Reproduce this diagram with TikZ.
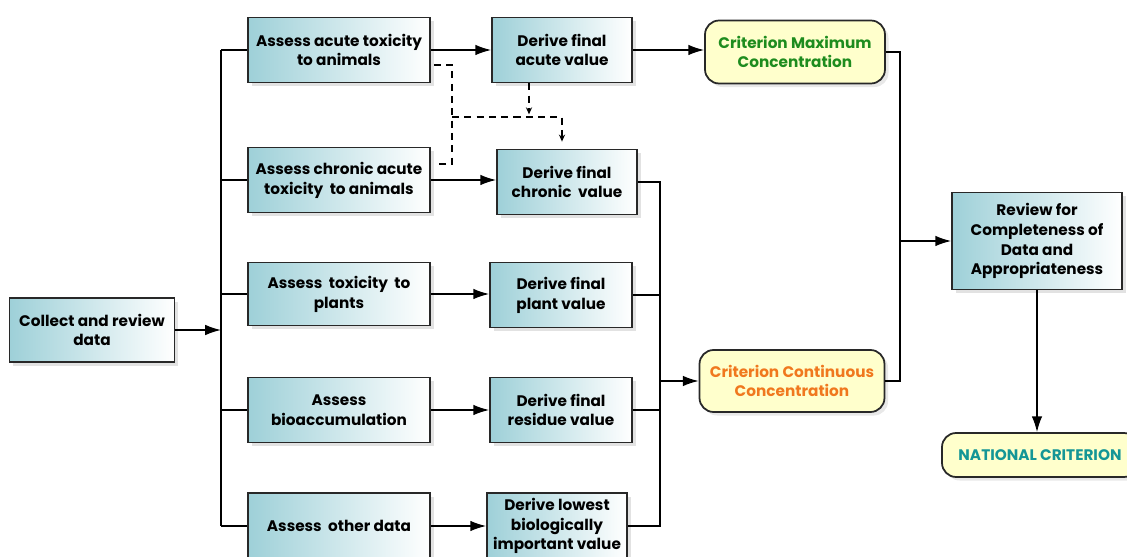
\documentclass[tikz,border=0pt]{standalone}
\usepackage{fontspec}
\setmainfont{Poppins}
\usetikzlibrary{arrows.meta, shadows, calc}

\definecolor{boxteal}{RGB}{158,208,216}
\definecolor{critfill}{RGB}{255,255,204}
\definecolor{critgreen}{RGB}{30,140,30}
\definecolor{critorange}{RGB}{240,120,30}
\definecolor{critteal}{RGB}{20,150,150}
\definecolor{edgegray}{RGB}{40,40,40}

\tikzset{
  stepbox/.style={draw=edgegray, line width=1pt, left color=boxteal, right color=white,
    align=center, inner sep=2pt, font=\bfseries\fontsize{8.7}{11.3}\selectfont,
    drop shadow={shadow xshift=2.2pt, shadow yshift=-2.2pt, fill=gray!45}},
  assessbox/.style={stepbox, minimum width=3.64cm, minimum height=1.3cm},
  derivebox/.style={stepbox, minimum width=2.8cm, minimum height=1.3cm},
  critbox/.style={draw=edgegray, line width=1pt, fill=critfill, rounded corners=8pt,
    align=center, inner sep=2pt, font=\bfseries\fontsize{8.7}{11.3}\selectfont,
    drop shadow={shadow xshift=2pt, shadow yshift=-2pt, fill=gray!35}}
}

\begin{document}
\begin{tikzpicture}[x=0.02cm, y=-0.02cm,
  link/.style={line width=0.8pt, -{Latex[length=9pt, width=6pt]}},
  bus/.style={line width=0.8pt},
  dashlink/.style={line width=0.8pt, dash pattern=on 4pt off 3pt}]

  \useasboundingbox (0,0) rectangle (1127,557);

  % Start
  \node[stepbox, minimum width=3.3cm, minimum height=1.28cm] (collect) at (92,330) {Collect and review\\data};

  % Assessments
  \node[assessbox] (acute) at (339,50) {Assess acute toxicity\\to animals};
  \node[assessbox] (chronic) at (339,180) {Assess chronic acute\\toxicity~~to animals};
  \node[assessbox, minimum height=1.26cm] (plant) at (339,294) {Assess~~toxicity~~to\\plants};
  \node[assessbox] (bioacc) at (339,410) {Assess\\bioaccumulation};
  \node[assessbox, minimum height=1.32cm] (other) at (339,526) {Assess~~other data};

  % Derived values
  \node[derivebox] (dacute) at (562,50) {Derive final\\acute value};
  \node[derivebox] (dchronic) at (567,182) {Derive final\\chronic~~value};
  \node[derivebox, minimum width=2.84cm] (dplant) at (561,295) {Derive final\\plant value};
  \node[derivebox, minimum width=2.84cm] (dresidue) at (561,410) {Derive final\\residue value};
  \node[derivebox, minimum height=1.32cm] (dlowest) at (557,526) {Derive lowest\\biologically\\important value};

  % Criteria
  \node[critbox, text=critgreen, minimum width=3.6cm, minimum height=1.26cm] (cmc) at (795,52) {Criterion Maximum\\Concentration};
  \node[critbox, text=critorange, minimum width=3.7cm, minimum height=1.24cm] (ccc) at (792,381) {Criterion Continuous\\Concentration};

  % Review and result
  \node[stepbox, minimum width=3.4cm, minimum height=1.94cm] (review) at (1037,241) {Review for\\Completeness of\\Data and\\Appropriateness};
  \node[critbox, text=critteal, minimum width=3.92cm, minimum height=0.88cm] (national) at (1040,455) {NATIONAL CRITERION};

  % Left bus
  \coordinate (busL) at (221,330);
  \draw[link] (collect) -- (collect -| busL);
  \draw[bus] (acute.west -| busL) -- (other.west -| busL);
  \foreach \n in {acute, chronic, plant, bioacc, other}
    \draw[bus] (\n.west -| busL) -- (\n.west);

  % Assess to derive
  \draw[link] (acute) -- (dacute);
  \draw[link] (chronic.east) -- (chronic.east -| dchronic.west);
  \draw[link] (plant.east) -- (plant.east -| dplant.west);
  \draw[link] (bioacc.east) -- (bioacc.east -| dresidue.west);
  \draw[link] (other.east) -- (other.east -| dlowest.west);

  % Dashed links
  \coordinate (dj) at (452,117);
  \draw[dashlink] ($(acute.east)+(3,15)$) -| (dj) |- ($(chronic.east)+(3,-16)$);
  \draw[dashlink, -{Stealth[length=4pt, width=3.5pt]}, shorten >=4pt] (dj) -| ($(dchronic.north)+(-5,0)$);
  \draw[dashlink, -{Stealth[length=4pt, width=3.5pt]}] ($(dacute.south)+(-33,0)$) -- ++(0,31);

  % Right bus
  \coordinate (busR) at (660,381);
  \draw[bus] (dchronic.east) -- (dchronic.east -| busR) -- (dlowest.east -| busR) -- (dlowest.east);
  \draw[bus] (dplant.east) -- (dplant.east -| busR);
  \draw[bus] (dresidue.east) -- (dresidue.east -| busR);
  \draw[link] (ccc.west -| busR) -- (ccc.west);
  \draw[link] (dacute.east) -- (dacute.east -| cmc.west);

  % Criteria to review
  \coordinate (busT) at (900,241);
  \draw[bus] (cmc.east) -- (cmc.east -| busT) -- (ccc.east -| busT) -- (ccc.east);
  \draw[link] (review.west -| busT) -- (review.west);
  \draw[link] (review.south) -- (review.south |- national.north);

\end{tikzpicture}
\end{document}
